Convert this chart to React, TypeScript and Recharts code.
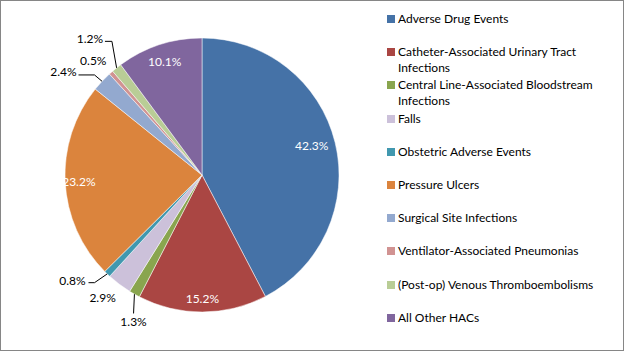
import React from "react";
import { PieChart, Pie, Cell, Legend } from "recharts";

const categories = [
  "Adverse Drug Events",
  "Catheter-Associated Urinary Tract Infections",
  "Central Line-Associated Bloodstream Infections",
  "Falls",
  "Obstetric Adverse Events",
  "Pressure Ulcers",
  "Surgical Site Infections",
  "Ventilator-Associated Pneumonias",
  "(Post-op) Venous Thromboembolisms",
  "All Other HACs",
];

const shares = [42.3, 15.2, 1.3, 2.9, 0.8, 23.2, 2.4, 0.5, 1.2, 10.1];

const colors = [
  "#4572A7",
  "#AA4643",
  "#89A54E",
  "#CCC1DA",
  "#4198AF",
  "#DB843D",
  "#93A9CF",
  "#D19392",
  "#B9CD96",
  "#80669E",
];

// label placement: inside (white) or outside, radius factor, angle nudge (deg, clockwise),
// optional leader polyline (offsets from label centre)
const labelStyle: {
  inside: boolean;
  r: number;
  nudge: number;
  leader?: number[][];
}[] = [
  { inside: true, r: 0.83, nudge: -1.4 },
  { inside: true, r: 0.9, nudge: 0 },
  { inside: false, r: 1.18, nudge: -4.5, leader: [[0, -8]] },
  { inside: false, r: 1.15, nudge: 2 },
  { inside: false, r: 1.22, nudge: 7, leader: [[22, 2], [16, 2]] },
  { inside: true, r: 0.9, nudge: 0 },
  { inside: false, r: 1.26, nudge: -6.5, leader: [[31, 3], [15, 3]] },
  { inside: false, r: 1.15, nudge: -2 },
  { inside: false, r: 1.29, nudge: -0.8, leader: [[22, 3], [15, 3]] },
  { inside: true, r: 0.87, nudge: 0 },
];

const data = categories.map((name, i) => ({ name, value: shares[i] }));

const FONT = "Lato, 'Noto Sans', sans-serif";
const RAD = Math.PI / 180;

function renderLabel(props: any) {
  const { cx, cy, midAngle, outerRadius, index, value } = props;
  const s = labelStyle[index];
  const a = (midAngle - s.nudge) * RAD;
  const lx = cx + outerRadius * s.r * Math.cos(a);
  const ly = cy - outerRadius * s.r * Math.sin(a);
  const ex = cx + outerRadius * Math.cos(midAngle * RAD);
  const ey = cy - outerRadius * Math.sin(midAngle * RAD);
  return (
    <g key={`lbl-${index}`}>
      {s.leader && (
        <polyline
          points={[[ex, ey], ...s.leader.map(([dx, dy]) => [lx + dx, ly + dy])]
            .map((p) => p.join(","))
            .join(" ")}
          fill="none"
          stroke="#000"
          strokeWidth={1}
        />
      )}
      <text
        x={lx}
        y={ly}
        textAnchor="middle"
        dominantBaseline="central"
        fill={s.inside ? "#fff" : "#000"}
        fontSize={12}
        fontFamily={FONT}
      >
        {`${value.toFixed(1)}%`}
      </text>
    </g>
  );
}

// legend drawn straight from the arrays so it keeps the series order
function renderLegend() {
  return (
    <div style={{ fontFamily: FONT, fontSize: 12, color: "#000" }}>
      {categories.map((name, i) => (
        <div
          key={`leg-${i}`}
          style={{ height: 33.2, display: "flex", alignItems: "flex-start" }}
        >
          <span
            style={{
              width: 8,
              height: 8,
              marginTop: 4,
              marginRight: 3,
              flex: "none",
              background: colors[i],
            }}
          />
          <span style={{ lineHeight: "16px", width: 205 }}>{name}</span>
        </div>
      ))}
    </div>
  );
}

export default function App() {
  return (
    <div
      style={{
        position: "absolute",
        left: 0,
        top: 0,
        width: 624,
        height: 351,
        boxSizing: "border-box",
        border: "1px solid #868686",
        background: "#fff",
      }}
    >
      <PieChart
        width={622}
        height={349}
        margin={{ top: 0, right: 0, bottom: 0, left: 0 }}
        style={{ position: "absolute", left: -1, top: -1 }}
      >
        <Pie
          data={data}
          dataKey="value"
          nameKey="name"
          cx={202}
          cy={175}
          outerRadius={137}
          startAngle={90}
          endAngle={-270}
          stroke="#fff"
          strokeWidth={0.5}
          label={renderLabel}
          labelLine={false}
          isAnimationActive={false}
        >
          {data.map((d, i) => (
            <Cell key={d.name} fill={colors[i]} />
          ))}
        </Pie>
        <Legend
          layout="vertical"
          content={renderLegend}
          wrapperStyle={{ position: "absolute", left: 387, top: 11, width: 230 }}
        />
      </PieChart>
    </div>
  );
}
